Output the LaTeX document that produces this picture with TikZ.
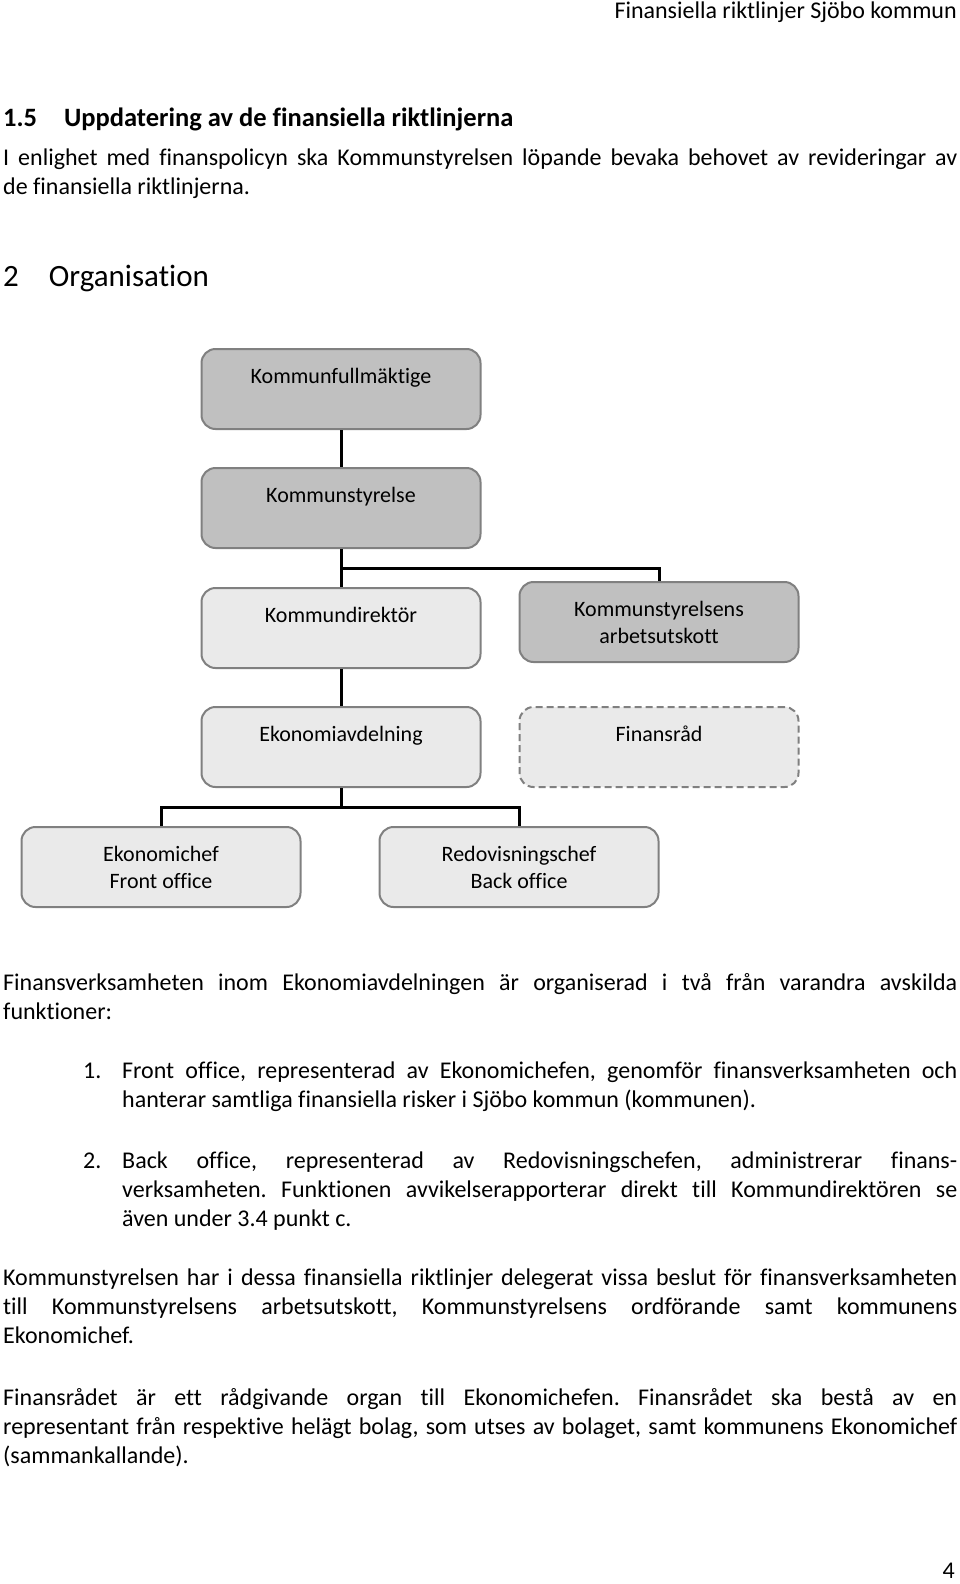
\documentclass[tikz,border=0pt]{standalone}
\usepackage{fontspec}
\setmainfont{Carlito}[Ligatures={NoCommon}]
\usetikzlibrary{positioning,calc}
\definecolor{darkfill}{RGB}{192,192,192}
\definecolor{lightfill}{RGB}{234,234,234}
\definecolor{boxline}{RGB}{128,128,128}
\frenchspacing
\tikzset{
  orgbox/.style={draw=boxline,line width=2pt,rounded corners=14pt,minimum width=279pt,minimum height=80pt,align=center,inner sep=0pt,font=\fontsize{22}{27}\selectfont},
  darkbox/.style={orgbox,fill=darkfill},
  lightbox/.style={orgbox,fill=lightfill},
  dashbox/.style={orgbox,fill=lightfill,dashed,dash pattern=on 7pt off 4pt},
  conn/.style={line width=3pt,black},
  para/.style={anchor=base west,inner sep=0pt,text width=954pt,align=justify,font=\fontsize{24}{29}\selectfont},
  item/.style={para,text width=835pt},
  plain/.style={anchor=base west,inner sep=0pt,font=\fontsize{24}{29}\selectfont}
}
\begin{document}
\begin{tikzpicture}[x=1pt,y=-1pt]
\useasboundingbox[fill=white] (0,0) rectangle (960,1584);
% header and headings
\node[plain,anchor=base east] (header) at (957,19) {Finansiella riktlinjer Sjöbo kommun};
\node[anchor=base west,inner sep=0pt,font=\bfseries\fontsize{26.5}{32}\selectfont] (h15) at (3,127) {1.5\hspace{27pt}Uppdatering av de finansiella riktlinjerna};
\node[para] (p1) at (3,165) {I enlighet med finanspolicyn ska Kommunstyrelsen löpande bevaka behovet av revideringar av\linebreak de finansiella riktlinjerna.};
\node[anchor=base west,inner sep=0pt,font=\fontsize{31}{38}\selectfont] (h2) at (3,286) {2\hspace{30pt}Organisation};
% org chart
\node[darkbox] (kf) at (341,389) {Kommunfullmäktige\\\mbox{}};
\node[darkbox] (ks) at (341,508) {Kommunstyrelse\\\mbox{}};
\node[lightbox] (kd) at (341,628) {Kommundirektör\\\mbox{}};
\node[darkbox] (ksau) at (659,622) {Kommunstyrelsens\\arbetsutskott};
\node[lightbox] (ea) at (341,747) {Ekonomiavdelning\\\mbox{}};
\node[dashbox] (fr) at (659,747) {Finansråd\\\mbox{}};
\node[lightbox] (ec) at (161,867) {Ekonomichef\\Front office};
\node[lightbox] (rc) at (519,867) {Redovisningschef\\Back office};
\coordinate (ksbar) at (341,568);
\coordinate (eabar) at (341,807);
\draw[conn] (kf) -- (ks);
\draw[conn] (ks) -- (kd);
\draw[conn] (ksbar) -| (ksau);
\draw[conn] (kd) -- (ea);
\draw[conn] (ea) -- (eabar);
\draw[conn] (eabar) -| (ec);
\draw[conn] (eabar) -| (rc);
% text below
\node[para] (p2) at (3,990) {Finansverksamheten inom Ekonomiavdelningen är organiserad i två från varandra avskilda\linebreak funktioner:};
\node[plain] (n1) at (83,1078) {1.};
\node[item] (i1) at (122,1078) {Front office, representerad av Ekonomichefen, genomför finansverksamheten och\linebreak hanterar samtliga finansiella risker i Sjöbo kommun (kommunen).};
\node[plain] (n2) at (83,1168) {2.};
\node[item] (i2) at (122,1168) {Back office, representerad av Redovisningschefen, administrerar finans-\linebreak verksamheten. Funktionen avvikelserapporterar direkt till Kommundirektören se\linebreak även under 3.4 punkt c.};
\node[para] (p3) at (3,1285) {Kommunstyrelsen har i dessa finansiella riktlinjer delegerat vissa beslut för finansverksamheten\linebreak till Kommunstyrelsens arbetsutskott, Kommunstyrelsens ordförande samt kommunens\linebreak Ekonomichef.};
\node[para] (p4) at (3,1405) {Finansrådet är ett rådgivande organ till Ekonomichefen. Finansrådet ska bestå av en\linebreak representant från respektive helägt bolag, som utses av bolaget, samt kommunens Ekonomichef\linebreak (sammankallande).};
\node[plain,anchor=base east] (pnum) at (955,1578) {4};
\end{tikzpicture}
\end{document}
